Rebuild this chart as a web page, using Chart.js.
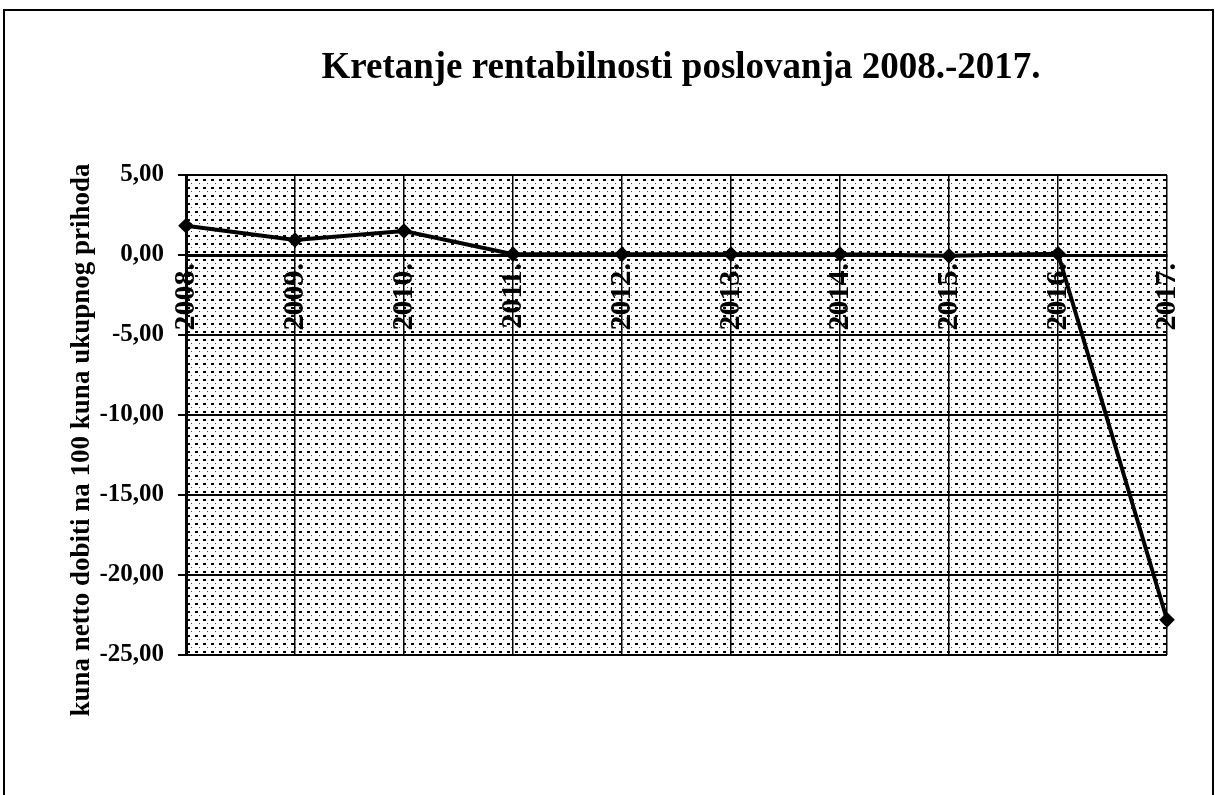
<!DOCTYPE html>
<html>
<head>
<meta charset="utf-8">
<script src="https://cdn.jsdelivr.net/npm/chart.js@4.4.1/dist/chart.umd.min.js"></script>
<style>
  html, body { margin: 0; padding: 0; background: #fff; }
  #wrap { width: 1215px; height: 795px; position: relative; }
</style>
</head>
<body>
<div id="wrap"><canvas id="c" width="1215" height="795"></canvas></div>
<script>
const chartTitle = 'Kretanje rentabilnosti poslovanja 2008.-2017.';
const yAxisTitle = 'kuna netto dobiti na 100 kuna ukupnog prihoda';
const years = ['2008.', '2009.', '2010.', '2011.', '2012.', '2013.', '2014.', '2015.', '2016.', '2017.'];
const rentabilnost = [1.83, 0.94, 1.5, 0.05, 0.05, 0.05, 0.05, -0.05, 0.08, -22.8];
const yMin = -25, yMax = 5, yStep = 5;

const SERIF = "'Liberation Serif', 'Times New Roman', serif";

function makePattern(ctx) {
  const p = document.createElement('canvas');
  p.width = 8; p.height = 8;
  const g = p.getContext('2d');
  g.fillStyle = '#fff';
  g.fillRect(0, 0, 8, 8);
  g.fillStyle = '#000';
  g.fillRect(3, 3, 3, 2);
  g.fillStyle = '#444';
  g.fillRect(7, 7, 1, 1);
  return ctx.createPattern(p, 'repeat');
}

const bgPlugin = {
  id: 'bgPlugin',
  beforeDraw(chart) {
    const { ctx, chartArea: a } = chart;
    ctx.save();
    ctx.fillStyle = '#fff';
    ctx.fillRect(0, 0, chart.width, chart.height);
    ctx.fillStyle = makePattern(ctx);
    ctx.fillRect(a.left, a.top, a.right - a.left, a.bottom - a.top);
    ctx.strokeStyle = '#000';
    ctx.lineWidth = 2;
    ctx.strokeRect(4, 10, 1209, 800);
    ctx.restore();
  },
  afterDraw(chart) {
    const { ctx } = chart;
    ctx.save();
    ctx.fillStyle = '#000';
    ctx.font = 'bold 37px ' + SERIF;
    ctx.textAlign = 'center';
    ctx.textBaseline = 'alphabetic';
    ctx.fillText(chartTitle, 681, 78);
    ctx.translate(82, 440);
    ctx.rotate(-Math.PI / 2);
    ctx.font = 'bold 27px ' + SERIF;
    ctx.textBaseline = 'middle';
    ctx.fillText(yAxisTitle, 0, 0);
    ctx.restore();
  }
};

new Chart(document.getElementById('c'), {
  type: 'line',
  data: {
    labels: years,
    datasets: [{
      data: rentabilnost,
      borderColor: '#000',
      backgroundColor: '#000',
      borderWidth: 4,
      pointStyle: 'rectRot',
      pointRadius: 5,
      pointBackgroundColor: '#000',
      pointBorderColor: '#000',
      tension: 0,
      fill: false
    }]
  },
  options: {
    responsive: false,
    animation: false,
    devicePixelRatio: 1,
    layout: { padding: { left: 86, right: 48, top: 175, bottom: 140 } },
    plugins: {
      legend: { display: false },
      title: { display: false },
      tooltip: { enabled: false }
    },
    scales: {
      x: {
        type: 'category',
        offset: false,
        position: { y: 0 },
        grid: { color: '#000', lineWidth: 1.5, drawTicks: false },
        border: { color: '#000', width: 3 },
        ticks: {
          color: '#000',
          font: { family: SERIF, size: 30, weight: 'bold' },
          minRotation: 90,
          maxRotation: 90,
          padding: 8,
          autoSkip: false
        }
      },
      y: {
        min: yMin,
        max: yMax,
        afterFit(s) { s.width = 100; },
        grid: { color: '#000', lineWidth: 2, drawTicks: true, tickLength: 8, tickColor: '#000' },
        border: { color: '#000', width: 3 },
        ticks: {
          stepSize: yStep,
          color: '#000',
          padding: 14,
          font: { family: SERIF, size: 25, weight: 'bold' },
          callback: v => v.toFixed(2).replace('.', ',')
        }
      }
    }
  },
  plugins: [bgPlugin]
});
</script>
</body>
</html>
